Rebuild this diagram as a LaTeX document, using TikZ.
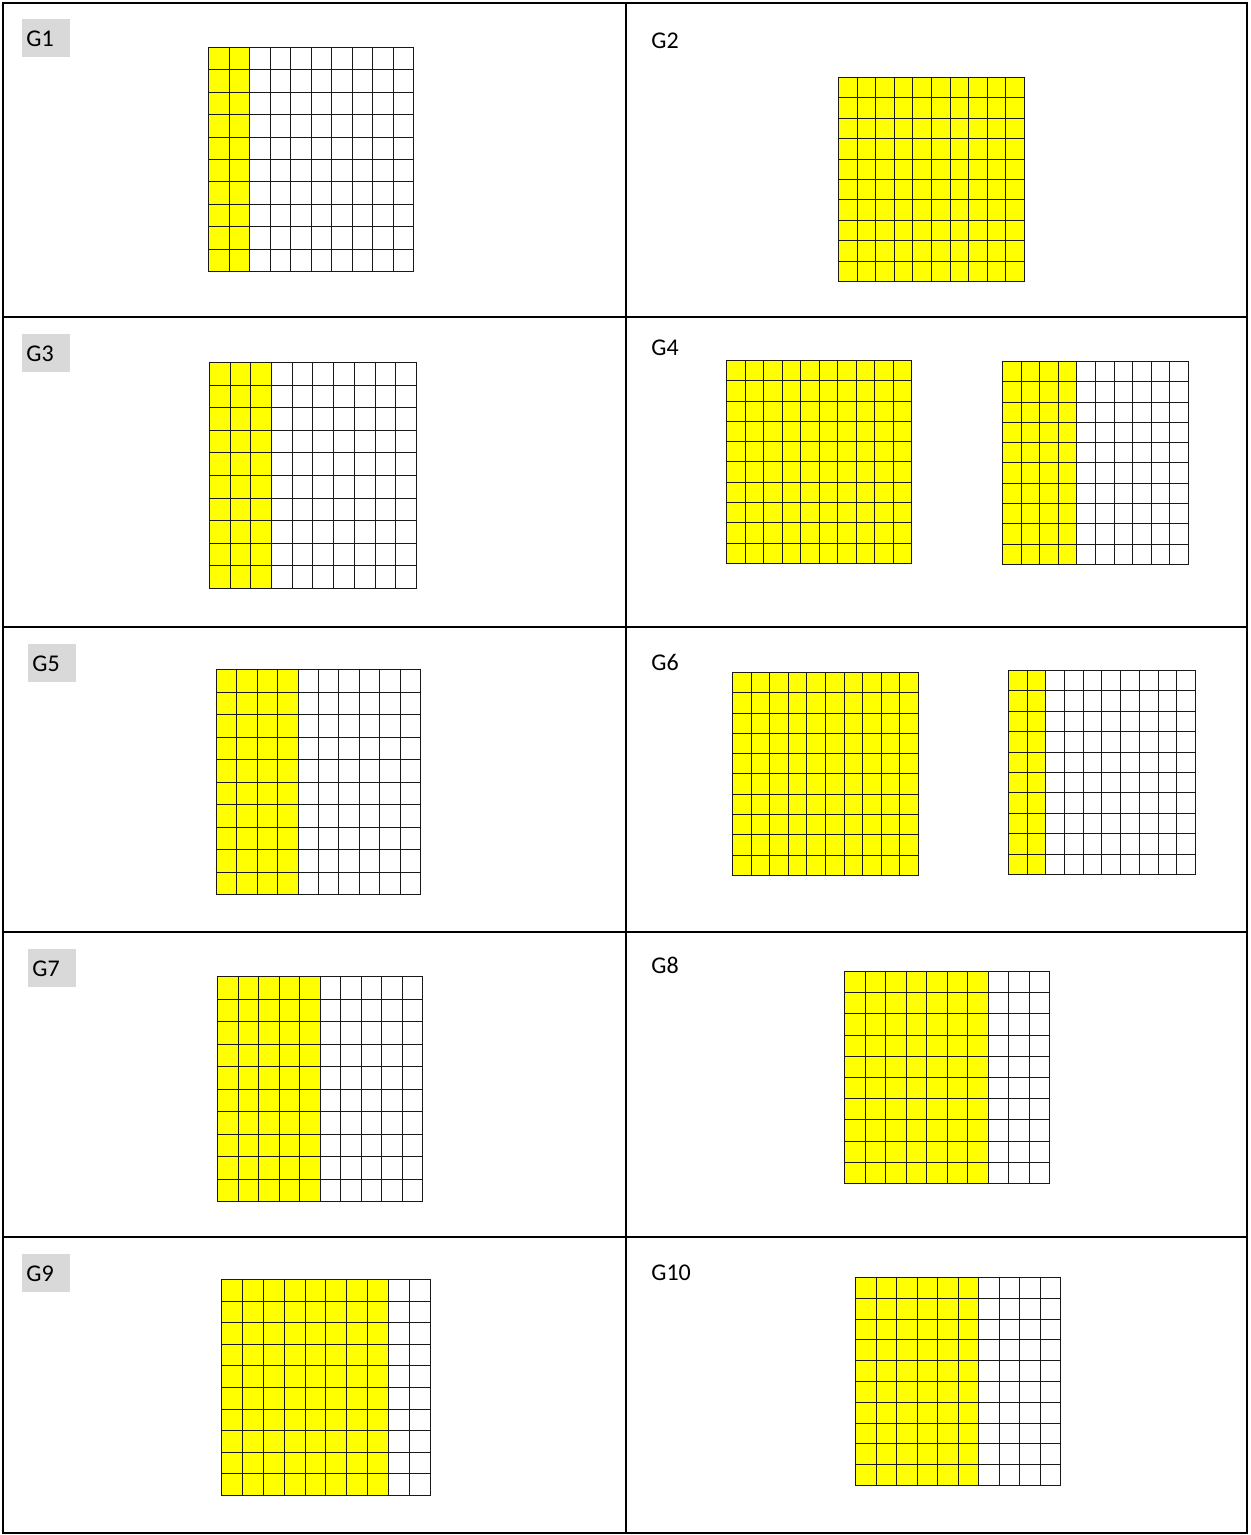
\documentclass[tikz,border=0pt]{standalone}
\usepackage{fontspec}
\setmainfont{Carlito}

\definecolor{cellyellow}{HTML}{FFFF00}
\definecolor{labelgray}{HTML}{D9D9D9}

\tikzset{
  tableline/.style={line width=1pt, black},
  gridline/.style={line width=0.75pt, black!90},
  labelbox/.style={fill=labelgray, anchor=north west, minimum width=24pt,
    minimum height=19pt, inner xsep=2pt, inner ysep=0pt, text width=20pt,
    align=left, font=\fontsize{12}{14}\selectfont},
  plainlabel/.style={anchor=base west, inner sep=0pt, font=\fontsize{12}{14}\selectfont},
}

% hundred square: (#1,#2) top left, (#3,#4) bottom right, #5 shaded columns
\newcommand{\hundredsq}[5]{%
  \pgfmathsetmacro\cellw{(#3-#1)/10}%
  \pgfmathsetmacro\cellh{(#4-#2)/10}%
  \fill[cellyellow] (#1,#2) rectangle ({round(#1+#5*\cellw)},#4);
  \foreach \k in {0,...,10} {
    \pgfmathsetmacro\gx{round(#1+\k*\cellw)+0.5}
    \pgfmathsetmacro\gy{round(#2+\k*\cellh)+0.5}
    \draw[gridline] (\gx,#2) -- (\gx,#4+1);
    \draw[gridline] (#1,\gy) -- (#3+1,\gy);
  }}

\begin{document}
\begin{tikzpicture}[x=0.5pt, y=-0.5pt]
  \useasboundingbox (0,0) rectangle (1250,1535);

  % Hundred squares, one row of the table per line
  \foreach \xa/\ya/\xb/\yb/\n in {
      208/47/413/271/2, 838/77/1024/281/10,
      209/362/416/588/3, 726/360/911/563/10, 1002/361/1188/564/4,
      216/669/420/894/4, 732/672/918/875/10, 1008/670/1195/874/2,
      217/976/422/1201/5, 844/971/1049/1183/7,
      221/1279/430/1495/8, 855/1277/1060/1485/6}
    {\hundredsq{\xa}{\ya}{\xb}{\yb}{\n}}

  % Table frame
  \draw[tableline] (3,3) rectangle (1247,1533);
  \draw[tableline] (626,3) -- (626,1533);
  \foreach \yy in {317,627,932,1237}
    \draw[tableline] (3,\yy) -- (1247,\yy);

  % Left column labels (shaded)
  \node[labelbox] (g1) at (22,19) {G1};
  \node[labelbox] (g3) at (22,334) {G3};
  \node[labelbox] (g5) at (28,644) {G5};
  \node[labelbox] (g7) at (28,949) {G7};
  \node[labelbox] (g9) at (22,1254) {G9};

  % Right column labels
  \node[plainlabel] (g2) at (651,49) {G2};
  \node[plainlabel] (g4) at (651,356) {G4};
  \node[plainlabel] (g6) at (651,670) {G6};
  \node[plainlabel] (g8) at (651,973) {G8};
  \node[plainlabel] (g10) at (651,1280) {G10};
\end{tikzpicture}
\end{document}
